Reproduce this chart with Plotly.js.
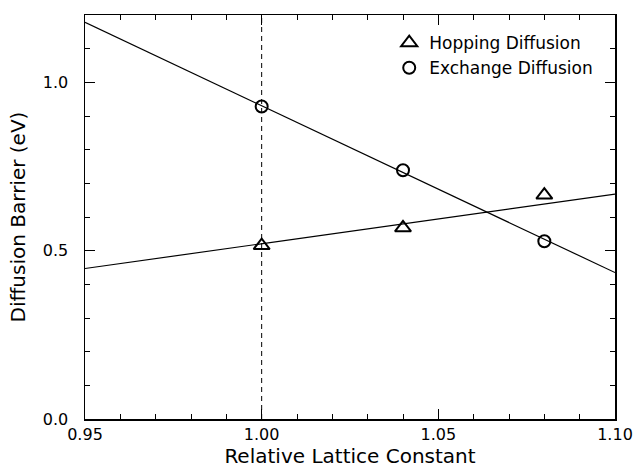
<!DOCTYPE html>
<html>
<head>
<meta charset="utf-8">
<script src="https://cdn.plot.ly/plotly-3.0.1.min.js"></script>
<style>html,body{margin:0;padding:0;background:#fff;}#chart{width:637px;height:468px;}</style>
</head>
<body>
<div id="chart"></div>
<script>
// Data
const latticeConstant = [1.00, 1.04, 1.08];
const hoppingBarrier = [0.515, 0.568, 0.665];
const exchangeBarrier = [0.928, 0.739, 0.528];
const fitX = [0.95, 1.10];
const hoppingFit = [0.447, 0.668];
const exchangeFit = [1.178, 0.435];
const refLineX = [1.00, 1.00];
const refLineY = [0, 1.2];
const xTickVals = [0.95, 1.00, 1.05, 1.10];
const xTickText = ['0.95', '1.00', '1.05', '1.10'];
const yTickVals = [0.0, 0.5, 1.0];
const yTickText = ['0.0', '0.5', '1.0'];

const FONT = 'DejaVu Sans, Liberation Sans, Arial, sans-serif';

const traces = [
  {x: refLineX, y: refLineY, mode: 'lines', showlegend: false, hoverinfo: 'skip',
   line: {color: '#000', width: 1, dash: '5px,4px'}},
  {x: fitX, y: exchangeFit, mode: 'lines', showlegend: false,
   line: {color: '#000', width: 1.2}},
  {x: fitX, y: hoppingFit, mode: 'lines', showlegend: false,
   line: {color: '#000', width: 1.2}},
  {x: latticeConstant, y: hoppingBarrier, mode: 'markers', name: 'Hopping Diffusion',
   marker: {symbol: 'triangle-up-open', size: 14, color: '#000', line: {width: 2, color: '#000'}},
   cliponaxis: false},
  {x: latticeConstant, y: exchangeBarrier, mode: 'markers', name: 'Exchange Diffusion',
   marker: {symbol: 'circle-open', size: 12, color: '#000', line: {width: 2, color: '#000'}},
   cliponaxis: false}
];

const layout = {
  width: 637, height: 468,
  margin: {l: 85, r: 22, t: 15, b: 49},
  paper_bgcolor: '#fff', plot_bgcolor: '#fff',
  font: {family: FONT, color: '#000', size: 16},
  showlegend: true,
  legend: {x: 0.574, xanchor: 'left', y: 0.975, yanchor: 'top',
           bgcolor: 'rgba(0,0,0,0)', borderwidth: 0,
           font: {family: FONT, size: 17, color: '#000'}, tracegroupgap: 0},
  xaxis: {
    range: [0.95, 1.10], showgrid: false, zeroline: false,
    tickmode: 'array', tickvals: xTickVals, ticktext: xTickText,
    ticks: 'inside', ticklen: 10, tickwidth: 1, tickcolor: '#000',
    showline: true, linewidth: 1.5, linecolor: '#000', mirror: 'allticks',
    minor: {dtick: 0.01, ticks: 'inside', ticklen: 5, tickwidth: 1, tickcolor: '#000', showgrid: false},
    tickfont: {family: FONT, size: 16, color: '#000'},
    ticklabelstandoff: 0,
    title: {text: 'Relative Lattice Constant', font: {family: FONT, size: 20, color: '#000'}, standoff: 0}
  },
  yaxis: {
    range: [0, 1.2], showgrid: false, zeroline: false,
    tickmode: 'array', tickvals: yTickVals, ticktext: yTickText,
    ticks: 'inside', ticklen: 10, tickwidth: 1, tickcolor: '#000',
    showline: true, linewidth: 1.5, linecolor: '#000', mirror: 'allticks',
    minor: {dtick: 0.1, ticks: 'inside', ticklen: 5, tickwidth: 1, tickcolor: '#000', showgrid: false},
    tickfont: {family: FONT, size: 16, color: '#000'},
    ticklabelstandoff: 12,
    title: {text: 'Diffusion Barrier (eV)', font: {family: FONT, size: 20, color: '#000'}, standoff: 12}
  }
};

Plotly.newPlot('chart', traces, layout, {staticPlot: true, displayModeBar: false});
</script>
</body>
</html>
